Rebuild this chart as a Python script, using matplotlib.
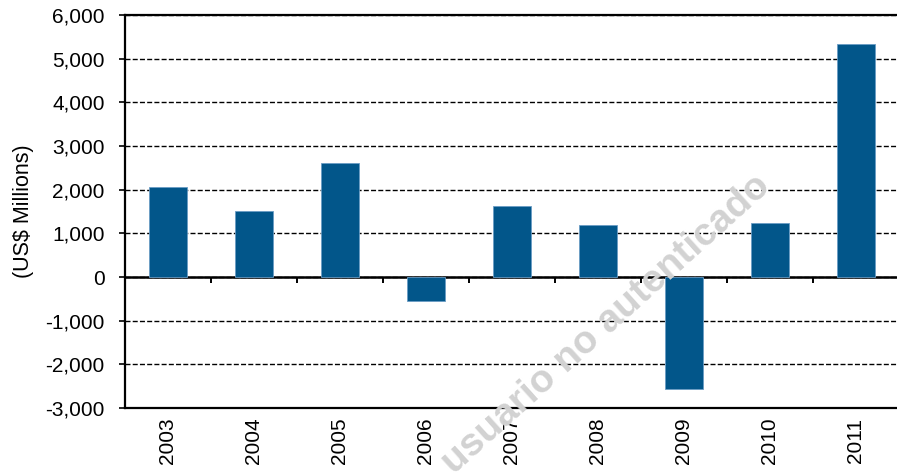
import matplotlib.pyplot as plt
import numpy as np

years = ['2003', '2004', '2005', '2006', '2007', '2008', '2009', '2010', '2011']
values = [2060, 1510, 2610, -550, 1630, 1200, -2570, 1240, 5330]
y_ticks = [-3000, -2000, -1000, 0, 1000, 2000, 3000, 4000, 5000, 6000]

plt.rcParams['font.family'] = ['Liberation Sans', 'DejaVu Sans']

fig = plt.figure(figsize=(8.97, 4.75), dpi=100)
ax = fig.add_axes([0.139, 0.141, 0.863, 0.827])

x = np.arange(len(years))
ax.bar(x, values, width=0.44, color='#02568a', edgecolor='#6a9cc4', linewidth=0.6, zorder=3)

ymin, ymax = y_ticks[0], y_ticks[-1]
ax.set_ylim(ymin, ymax)
ax.set_xlim(-0.5, len(years) - 0.5)
ax.set_yticks(y_ticks)
ax.set_yticklabels(['{:,}'.format(v) for v in y_ticks])
ax.tick_params(axis='y', direction='out', length=4.5, width=1.2, pad=10, labelsize=15)

ax.set_xticks(x)
ax.set_xticklabels(years, rotation=90, fontsize=15)
ax.tick_params(axis='x', length=0, pad=7)

ax.grid(axis='y', color='black', linestyle=(0, (3.6, 1.6)), linewidth=1.0, zorder=1)

for s in ['left', 'top', 'bottom']:
    ax.spines[s].set_linewidth(1.6)
ax.spines['right'].set_visible(False)

# zero line with category separator ticks
zero = ax.secondary_xaxis(-ymin / (ymax - ymin))
zero.set_xticks(np.arange(len(years) - 1) + 0.5)
zero.set_xticklabels([])
zero.tick_params(direction='out', length=4.5, width=1.4)
zero.spines['bottom'].set_linewidth(1.8)

ax.set_ylabel('(US$ Millions)', fontsize=15.5)
ax.yaxis.set_label_coords(-0.117, 0.5)

fig.text(0.676, 0.318, 'usuario no autenticado', rotation=42, fontsize=28,
         fontweight='bold', color='#d2d2d2', ha='center', va='center', zorder=10)

fig.savefig('out.png', dpi=100)
